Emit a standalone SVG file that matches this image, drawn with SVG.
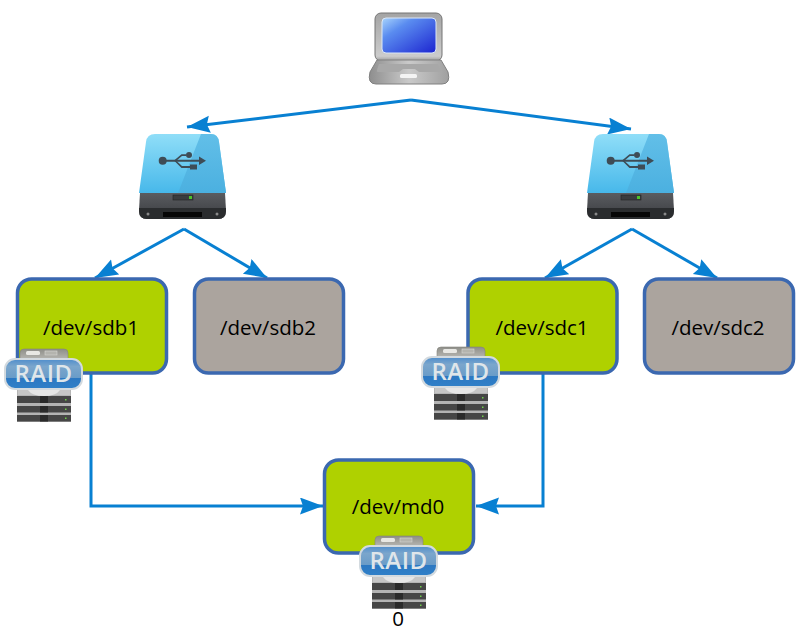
<svg xmlns="http://www.w3.org/2000/svg" width="796" height="628" viewBox="0 0 796 628">
<style>
.box{stroke:#3b68b0;stroke-width:3.5}
.on{fill:#afd100}
.off{fill:#aba49e}
.lbl{font-family:"Open Sans","Noto Sans",sans-serif;font-size:20.500px;fill:#000;text-anchor:middle}
.con{fill:none;stroke:#0880d2;stroke-width:3;marker-end:url(#arr)}
</style>
<defs>
<marker id="arr" markerUnits="userSpaceOnUse" markerWidth="24" markerHeight="18" refX="23" refY="8.500" orient="auto"><path d="M0 0L23 8.500L0 17L3 8.500Z" fill="#0880d2"/></marker>
<linearGradient id="scr" x1="0" y1="0" x2="1" y2="1"><stop offset="0" stop-color="#a8d4fc"/><stop offset=".3" stop-color="#5a8cf0"/><stop offset="1" stop-color="#1c24d0"/></linearGradient>
<linearGradient id="lid" x1="0" y1="0" x2="0" y2="1"><stop offset="0" stop-color="#a4a4a4"/><stop offset=".9" stop-color="#cccccc"/><stop offset="1" stop-color="#9a9a9a"/></linearGradient>
<linearGradient id="base" x1="0" y1="0" x2="1" y2="0"><stop offset="0" stop-color="#8e8e8e"/><stop offset=".5" stop-color="#cacaca"/><stop offset="1" stop-color="#a0a0a0"/></linearGradient>
<linearGradient id="usb" x1="0" y1="0" x2="0" y2="1"><stop offset="0" stop-color="#90def8"/><stop offset="1" stop-color="#47b8ea"/></linearGradient>
<linearGradient id="usb2" x1="0" y1="0" x2="0" y2="1"><stop offset="0" stop-color="#62bfe8"/><stop offset="1" stop-color="#4bb0e0"/></linearGradient>
<linearGradient id="dark" x1="0" y1="0" x2="0" y2="1"><stop offset="0" stop-color="#5a5c60"/><stop offset="1" stop-color="#3a3c40"/></linearGradient>
<linearGradient id="badge" x1="0" y1="0" x2="0" y2="1"><stop offset="0" stop-color="#4e8dcc"/><stop offset=".25" stop-color="#7ba6cc"/><stop offset=".62" stop-color="#6a9cc8"/><stop offset=".64" stop-color="#2c78c2"/><stop offset="1" stop-color="#3080c8"/></linearGradient>
<linearGradient id="tray" x1="0" y1="0" x2="0" y2="1"><stop offset="0" stop-color="#8e8e88"/><stop offset="1" stop-color="#c4c4c0"/></linearGradient>
<g id="raid">
<path d="M16 4Q16 0 20 0H60Q64 0 64 4V14H16Z" fill="url(#tray)" stroke="#84847c" stroke-width=".6"/>
<rect x="22" y="2" width="14" height="4" rx="1.500" fill="#e8e8e4"/>
<rect x="41" y="2" width="12" height="4" fill="#b4b4ae" stroke="#d8d8d4" stroke-width=".6"/>
<rect x="13" y="40" width="54" height="33" fill="#b4b4b4"/>
<path d="M14 40H66V46H14Z" fill="#c6c6c6"/>
<path d="M24 41H56Q52 47 40 47Q28 47 24 41Z" fill="#e6e6e6"/>
<rect x="13" y="47" width="54" height="7" fill="#464646"/>
<rect x="13" y="57" width="54" height="6.500" fill="#464646"/>
<rect x="13" y="66" width="54" height="6.500" fill="#464646"/>
<g fill="#2a2a2a"><rect x="36" y="47" width="8" height="7"/><rect x="36" y="57" width="8" height="6.500"/><rect x="36" y="66" width="8" height="6.500"/></g>
<g fill="#6fd04a"><rect x="61" y="50" width="1.500" height="1.500"/><rect x="61" y="59.500" width="1.500" height="1.500"/><rect x="61" y="68.500" width="1.500" height="1.500"/></g>
<rect x="1" y="10" width="77" height="30" rx="10" fill="url(#badge)" stroke="#d3dadf" stroke-width="2"/>
<text x="39.500" y="33" font-family="'Open Sans','Noto Sans',sans-serif" font-size="24" font-weight="600" letter-spacing=".5" fill="#dfe6ea" text-anchor="middle">RAID</text>
</g>
<g id="usbdrive">
<path d="M7 8Q8 0 16 0H72Q79 0 80 8L87 59H0Z" fill="url(#usb)"/>
<path d="M62 0H72Q79 0 80 8L87 59H39Z" fill="url(#usb2)"/>
<path d="M1 59H86L87 76Q87 85 79 85H8Q0 85 0 76Z" fill="url(#dark)"/>
<path d="M0 74H87V77Q87 85 79 85H8Q0 85 0 77Z" fill="#2a2c2e"/>
<rect x="24" y="78" width="39" height="5" fill="#060606"/>
<rect x="34" y="61" width="20" height="5" fill="#3a3c3e" stroke="#222" stroke-width=".6"/>
<rect x="50" y="62" width="3" height="3" fill="#4cc02a"/>
<circle cx="9" cy="80" r="1.500" fill="#8a8a8a"/><circle cx="78" cy="80" r="1.500" fill="#8a8a8a"/>
<g transform="translate(-139 -134)" fill="#3e4c56">
<circle cx="162.700" cy="160.700" r="4"/>
<path d="M165 159.700H199V156.500L206 160.700L199 165V161.700H165Z"/>
<path d="M174 160.500L181.500 154.300H186V156H182L176 161Z"/>
<circle cx="189" cy="155" r="3"/>
<path d="M174 160.500L176 160.500L182 166H190V168H181.500Z"/>
<rect x="190" y="164.500" width="7" height="5"/>
</g>
</g>
</defs>
<g id="connectors">
<path class="con" d="M411 100L187 127"/>
<path class="con" d="M411 100L631 129"/>
<path class="con" d="M184 229L95 278"/>
<path class="con" d="M184 229L267 278"/>
<path class="con" d="M632 229L545 278"/>
<path class="con" d="M632 229L717 278"/>
<path class="con" d="M91 373V506H323"/>
<path class="con" d="M543 373V506H476"/>
</g>
<g id="laptop">
<rect x="375" y="13" width="67" height="48" rx="6" fill="url(#lid)" stroke="#757575"/>
<rect x="382" y="18" width="54" height="35" rx="4" fill="url(#scr)" stroke="#dce8f8"/>
<path d="M377 60H441L448 72Q451 84 442 84H376Q367 84 370 72Z" fill="url(#base)" stroke="#808080"/>
<path d="M379 64H438L441 70Q441 72 438 72H419L415 69H403L399 72H379Q376 72 377 70Z" fill="#a8a8a8"/>
<rect x="400" y="74" width="17" height="4" rx="1.500" fill="#f4f4f4"/>
</g>
<g id="usb-left"><use href="#usbdrive" x="139" y="134"/></g>
<g id="usb-right"><use href="#usbdrive" x="587" y="134"/></g>
<g id="sdb1"><rect class="box on" x="17.500" y="279" width="149" height="94" rx="14"/><text class="lbl" x="91" y="335">/dev/sdb1</text><use href="#raid" x="4" y="349"/></g>
<g id="sdb2"><rect class="box off" x="194.500" y="279" width="149" height="94" rx="14"/><text class="lbl" x="268" y="335">/dev/sdb2</text></g>
<g id="sdc1"><rect class="box on" x="468" y="279" width="149" height="94" rx="14"/><text class="lbl" x="542" y="335">/dev/sdc1</text><use href="#raid" x="421" y="347"/></g>
<g id="sdc2"><rect class="box off" x="644.500" y="279" width="149" height="94" rx="14"/><text class="lbl" x="718" y="335">/dev/sdc2</text></g>
<g id="md0"><rect class="box on" x="324.500" y="460" width="149" height="93" rx="14"/><text class="lbl" x="398" y="514">/dev/md0</text><use href="#raid" x="359" y="536"/></g>
<text class="lbl" x="398" y="626">0</text>
</svg>
